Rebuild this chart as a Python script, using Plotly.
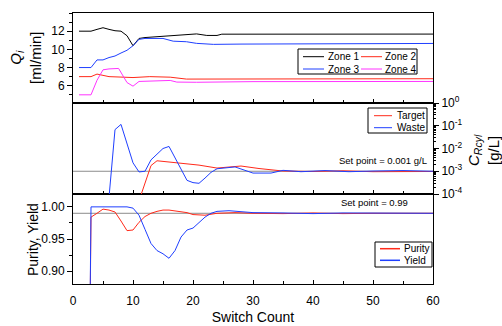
import numpy as np
import plotly.graph_objects as go

FONT = "Liberation Sans, Arial, sans-serif"

# ---------------- data ----------------
# Top panel: zone flow rates [ml/min]
zone1_x = [1, 3, 4, 5, 6, 7, 8, 9, 10, 11, 12, 15, 19.5, 20.6, 22.3, 24, 24.8, 30, 40, 50, 60]
zone1_y = [12, 12, 12.2, 12.38, 12.2, 12.05, 12.0, 11.5, 10.4, 11.2, 11.3, 11.45, 11.64, 11.7, 11.53, 11.53, 11.67, 11.68, 11.68, 11.68, 11.68]
zone2_x = [1, 3, 4, 5, 6, 8, 10, 12.8, 16.2, 18.9, 25, 30, 40, 50, 60]
zone2_y = [7.0, 7.0, 7.28, 7.1, 7.0, 6.95, 6.9, 7.0, 6.94, 6.73, 6.73, 6.75, 6.76, 6.77, 6.77]
zone3_x = [1, 3, 4, 5, 6, 7, 8, 9, 10, 11, 12, 15, 16.7, 18.9, 20.6, 23.4, 28, 40, 50, 60]
zone3_y = [8, 8, 8.84, 8.84, 9.1, 9.27, 9.6, 9.9, 10.4, 11.1, 11.2, 11.2, 10.9, 10.84, 10.66, 10.55, 10.58, 10.62, 10.65, 10.65]
zone4_x = [1, 3, 4, 5, 6, 7, 7.6, 9, 10, 11, 13, 16.2, 17.3, 20.6, 30, 40, 50, 60]
zone4_y = [5, 5, 6.6, 7.75, 7.85, 7.93, 7.9, 6.35, 5.95, 6.47, 6.52, 6.58, 6.4, 6.38, 6.45, 6.47, 6.47, 6.47]

# Middle panel: recycle concentration [g/L]
waste_x = [6, 7, 8, 9, 10, 11, 12, 13, 14, 15, 16, 17, 18, 19, 20, 21, 22, 23, 24, 27, 30, 33, 35, 38, 42, 46, 50, 55, 60]
waste_log = [-4.15, -1.17, -0.94, -1.78, -2.63, -3.03, -3.0, -2.5, -2.25, -2.0, -1.91, -2.4, -2.95, -3.4, -3.5, -3.53, -3.3, -3.05, -2.89, -2.81, -3.08, -3.08, -2.96, -3.02, -2.97, -3.02, -2.99, -2.97, -3.0]
target_x = [11, 12, 13, 14, 16, 19, 21, 24, 28, 31, 35, 40, 45, 50, 55, 60]
target_log = [-4.3, -3.55, -2.75, -2.54, -2.59, -2.65, -2.73, -2.86, -2.77, -2.88, -2.99, -3.01, -2.98, -3.02, -3.0, -3.01]
waste_c = [10 ** v for v in waste_log]
target_c = [10 ** v for v in target_log]
setpoint_c = 0.001

# Bottom panel: purity and yield
yield_x = [2, 3, 4, 5, 6, 7, 8, 9, 10, 11, 12, 13, 14, 15, 16, 17, 18, 19, 20, 21, 22, 23, 24, 26, 28, 30, 35, 40, 45, 50, 55, 60]
yield_y = [0.0, 1.0, 1.0, 1.0, 1.0, 1.0, 1.0, 1.0, 0.998, 0.987, 0.965, 0.943, 0.932, 0.927, 0.92, 0.932, 0.953, 0.964, 0.967, 0.976, 0.984, 0.99, 0.993, 0.994, 0.993, 0.991, 0.9905, 0.9895, 0.9905, 0.990, 0.9905, 0.990]
purity_x = [2, 3, 4, 5, 6, 7, 8, 9, 10, 11, 12, 13, 14, 15, 16, 17, 18, 19, 20, 21, 22, 24, 27, 30, 35, 40, 45, 50, 55, 60]
purity_y = [0.0, 0.984, 0.99, 0.9965, 0.995, 0.992, 0.978, 0.963, 0.964, 0.976, 0.985, 0.99, 0.993, 0.995, 0.995, 0.994, 0.993, 0.991, 0.988, 0.987, 0.987, 0.99, 0.991, 0.99, 0.9895, 0.9905, 0.9895, 0.990, 0.9895, 0.990]
setpoint_py = 0.99

x_range = [0, 60]
x_ticks = [0, 10, 20, 30, 40, 50, 60]
log_ticks = [0, -1, -2, -3, -4]
log_ticktext = ["10<sup>0</sup>", "10<sup>-1</sup>", "10<sup>-2</sup>", "10<sup>-3</sup>", "10<sup>-4</sup>"]

BLACK = "#000000"
RED = "#ff2a1a"
BLUE = "#1f3fff"
MAGENTA = "#ff33ff"
GRAY = "#8c8c8c"

# layout geometry (pixels)
W, H = 502, 326
ML, MR, MT, MB = 73, 69, 13, 42
PW, PH = W - ML - MR, H - MT - MB


def px(xp):
    return (xp - ML) / PW


def py(yp):
    return (H - MB - yp) / PH


fig = go.Figure()

series = [
    # name, x, y, color, xaxis, yaxis
    ("Zone 1", zone1_x, zone1_y, BLACK, "x3", "y3"),
    ("Zone 2", zone2_x, zone2_y, RED, "x3", "y3"),
    ("Zone 3", zone3_x, zone3_y, BLUE, "x3", "y3"),
    ("Zone 4", zone4_x, zone4_y, MAGENTA, "x3", "y3"),
    ("Set point C", x_range, [setpoint_c, setpoint_c], GRAY, "x2", "y2"),
    ("Target", target_x, target_c, RED, "x2", "y2"),
    ("Waste", waste_x, waste_c, BLUE, "x2", "y2"),
    ("Set point P", x_range, [setpoint_py, setpoint_py], GRAY, "x", "y"),
    ("Purity", purity_x, purity_y, RED, "x", "y"),
    ("Yield", yield_x, yield_y, BLUE, "x", "y"),
]
for name, xs, ys, col, xa, ya in series:
    fig.add_trace(go.Scatter(x=xs, y=ys, mode="lines", name=name, showlegend=False,
                             line=dict(color=col, width=1), xaxis=xa, yaxis=ya))

axis_common = dict(showline=True, linecolor="black", linewidth=1, mirror=True, automargin=False,
                   showgrid=False, zeroline=False, tickcolor="black",
                   tickfont=dict(family=FONT, size=12, color="black"))

xcommon = dict(axis_common, range=x_range, tickvals=x_ticks, ticks="inside", ticklen=4,
               minor=dict(dtick=5, tick0=0, ticks="inside", ticklen=3, tickcolor="black"))

d_bot = [0.0, py(194)]
d_mid = [py(194), py(103)]
d_top = [py(103), 1.0]

fig.update_layout(
    width=W, height=H,
    margin=dict(l=ML, r=MR, t=MT, b=MB, autoexpand=False),
    paper_bgcolor="white", plot_bgcolor="white",
    font=dict(family=FONT, size=12, color="black"),
    showlegend=False,
    xaxis=dict(xcommon, anchor="y", ticklabelstandoff=6,
               title=dict(text="Switch Count", font=dict(family=FONT, size=14), standoff=4)),
    xaxis2=dict(xcommon, anchor="y2", matches="x", showticklabels=False),
    xaxis3=dict(xcommon, anchor="y3", matches="x", showticklabels=False),
    yaxis=dict(axis_common, domain=d_bot, range=[0.88, 1.02], tickvals=[0.90, 0.95, 1.00],
               tickformat=".2f", ticks="outside", ticklen=5,
               minor=dict(tickvals=[0.925, 0.975], ticks="outside", ticklen=3, tickcolor="black")),
    yaxis2=dict(axis_common, domain=d_mid, type="log", range=[-4, 0], side="right", anchor="x2",
                tickvals=[10 ** v for v in log_ticks], ticktext=log_ticktext,
                ticks="outside", ticklen=5,
                minor=dict(dtick="D1", ticks="outside", ticklen=2, tickcolor="black")),
    yaxis3=dict(axis_common, domain=d_top, range=[4.1, 14], tickvals=[6, 8, 10, 12], anchor="x3",
                ticks="outside", ticklen=5,
                minor=dict(dtick=1, tick0=0, ticks="outside", ticklen=3, tickcolor="black")),
)

# axis titles
fig.add_annotation(x=px(26), y=py(58), xref="paper", yref="paper", textangle=-90,
                   text="<i>Q<sub>i</sub></i><br>[ml/min]", showarrow=False,
                   xanchor="center", yanchor="middle", font=dict(family=FONT, size=15, color="black"))
fig.add_annotation(x=px(33), y=py(240), xref="paper", yref="paper", textangle=-90,
                   text="Purity, Yield", showarrow=False,
                   xanchor="center", yanchor="middle", font=dict(family=FONT, size=14, color="black"))
fig.add_annotation(x=px(483), y=py(150), xref="paper", yref="paper", textangle=-90,
                   text="<i>C<sub>Rcyl</sub></i><br>[g/L]", showarrow=False,
                   xanchor="center", yanchor="middle", font=dict(family=FONT, size=15, color="black"))

# set-point labels
fig.add_annotation(x=59.4, y=np.log10(setpoint_c), xref="x2", yref="y2", text="Set point = 0.001 g/L",
                   showarrow=False, xanchor="right", yanchor="bottom", yshift=3,
                   font=dict(family=FONT, size=9.5, color="black"))
fig.add_annotation(x=50.2, y=setpoint_py, xref="x", yref="y", text="Set point = 0.99",
                   showarrow=False, xanchor="center", yanchor="bottom", yshift=3,
                   font=dict(family=FONT, size=9.5, color="black"))

# ---- legend boxes (key line + label), laid out like the original ----
legend_boxes = [
    # box (x0, x1, y0, y1), entries: (label, color, key_x0, key_x1, text_x, row_y, key_width)
    ((298, 417, 49, 74), [
        ("Zone 1", BLACK, 303, 324, 327, 56.7, 1),
        ("Zone 2", RED, 361, 382, 384, 56.7, 1),
        ("Zone 3", BLUE, 303, 324, 327, 69, 1),
        ("Zone 4", MAGENTA, 361, 382, 384, 69, 1),
    ]),
    ((368, 427, 108, 133), [
        ("Target", RED, 374, 392, 396, 115.7, 1),
        ("Waste", BLUE, 374, 392, 396, 127.7, 1),
    ]),
    ((375, 432, 242, 267), [
        ("Purity", RED, 380, 400, 403, 248.7, 1.5),
        ("Yield", BLUE, 380, 400, 403, 260.3, 1.5),
    ]),
]
for (bx0, bx1, by0, by1), entries in legend_boxes:
    fig.add_shape(type="rect", xref="paper", yref="paper", x0=px(bx0), x1=px(bx1), y0=py(by1), y1=py(by0),
                  line=dict(color="black", width=1), fillcolor="white", layer="above")
    for label, col, kx0, kx1, tx, ry, kw in entries:
        fig.add_shape(type="line", xref="paper", yref="paper", x0=px(kx0), x1=px(kx1), y0=py(ry), y1=py(ry),
                      line=dict(color=col, width=kw), layer="above")
        fig.add_annotation(x=px(tx), y=py(ry), xref="paper", yref="paper", text=label, showarrow=False,
                           xanchor="left", yanchor="middle", xshift=-1,
                           font=dict(family=FONT, size=10, color="black"))

fig.write_html("out.html")
